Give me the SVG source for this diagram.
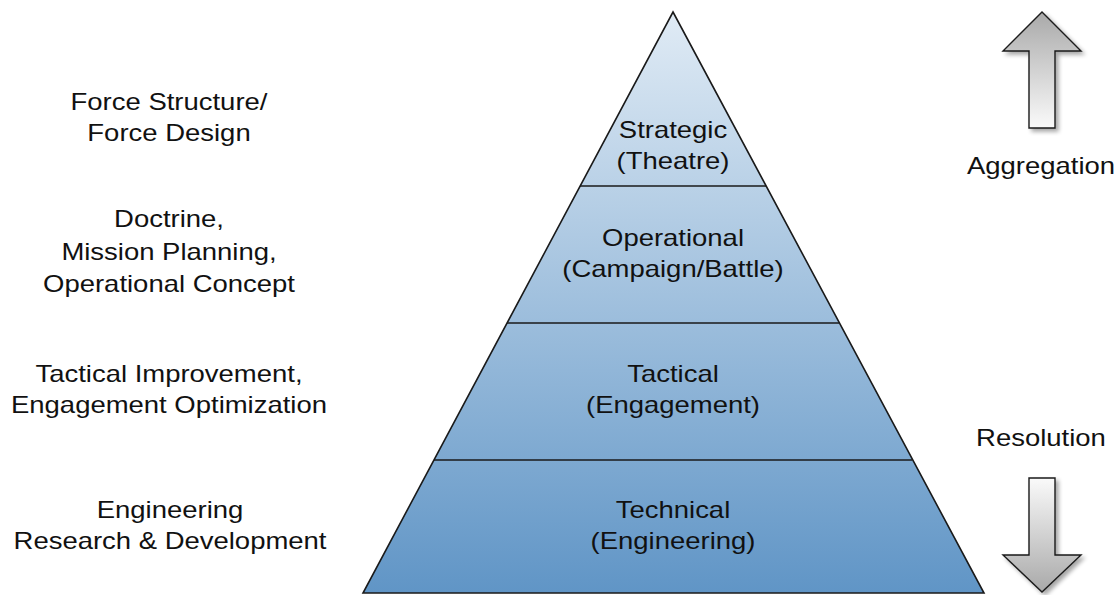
<svg xmlns="http://www.w3.org/2000/svg" width="1120" height="595" viewBox="0 0 1120 595">
  <defs>
    <linearGradient id="pyrFill" gradientUnits="userSpaceOnUse" x1="0" y1="12" x2="0" y2="593">
      <stop offset="0" stop-color="#e0ebf5"/>
      <stop offset="1" stop-color="#6095c6"/>
    </linearGradient>
    <linearGradient id="upFill" x1="0" y1="0" x2="0" y2="1">
      <stop offset="0" stop-color="#a9a9a9"/>
      <stop offset="1" stop-color="#fafafa"/>
    </linearGradient>
    <linearGradient id="downFill" x1="0" y1="0" x2="0" y2="1">
      <stop offset="0" stop-color="#fafafa"/>
      <stop offset="1" stop-color="#a9a9a9"/>
    </linearGradient>
    <filter id="shadow" x="-30%" y="-30%" width="160%" height="160%">
      <feGaussianBlur in="SourceAlpha" stdDeviation="2"/>
      <feOffset dx="3" dy="3" result="b"/>
      <feComponentTransfer><feFuncA type="linear" slope="0.35"/></feComponentTransfer>
      <feMerge><feMergeNode/><feMergeNode in="SourceGraphic"/></feMerge>
    </filter>
  </defs>
  <style>
    text { font-family: "Liberation Sans", Arial, sans-serif; font-size: 24px; fill: #111; text-anchor: middle; }
    .edge { fill: none; stroke: #1a1a1a; stroke-width: 1.6; }
    .arrow { stroke: #1a1a1a; stroke-width: 1.4; stroke-linejoin: miter; }
  </style>

  <rect width="1120" height="595" fill="#ffffff"/>

  <!-- pyramid body -->
  <g id="pyramid">
    <polygon points="673,12 984,593 363,593" fill="url(#pyrFill)"/>
    <polygon class="edge" points="673,12 984,593 363,593"/>
  </g>

  <!-- tier dividers -->
  <g id="connectors">
    <line class="edge" x1="580" y1="186" x2="766" y2="186"/>
    <line class="edge" x1="507" y1="323" x2="839" y2="323"/>
    <line class="edge" x1="434" y1="460" x2="912" y2="460"/>
  </g>

  <!-- labels are set in a horizontally widened face (scale 1.145 on x) -->
  <g id="tier-strategic" transform="translate(673 0) scale(1.145 1)">
    <text x="0" y="138">Strategic</text>
    <text x="0" y="169">(Theatre)</text>
  </g>
  <g id="tier-operational" transform="translate(673 0) scale(1.145 1)">
    <text x="0" y="246">Operational</text>
    <text x="0" y="277">(Campaign/Battle)</text>
  </g>
  <g id="tier-tactical" transform="translate(673 0) scale(1.145 1)">
    <text x="0" y="382">Tactical</text>
    <text x="0" y="413">(Engagement)</text>
  </g>
  <g id="tier-technical" transform="translate(673 0) scale(1.145 1)">
    <text x="0" y="518">Technical</text>
    <text x="0" y="549">(Engineering)</text>
  </g>

  <!-- application areas -->
  <g id="use-force" transform="translate(169 0) scale(1.145 1)">
    <text x="0" y="110">Force Structure/</text>
    <text x="0" y="141">Force Design</text>
  </g>
  <g id="use-doctrine" transform="translate(169 0) scale(1.145 1)">
    <text x="0" y="227">Doctrine,</text>
    <text x="0" y="260">Mission Planning,</text>
    <text x="0" y="292">Operational Concept</text>
  </g>
  <g id="use-tactical" transform="translate(169 0) scale(1.145 1)">
    <text x="0" y="382">Tactical Improvement,</text>
    <text x="0" y="413">Engagement Optimization</text>
  </g>
  <g id="use-engineering" transform="translate(170 0) scale(1.145 1)">
    <text x="0" y="518">Engineering</text>
    <text x="0" y="549">Research &amp; Development</text>
  </g>

  <!-- aggregation / resolution axis -->
  <g id="aggregation">
    <polygon class="arrow" fill="url(#upFill)" filter="url(#shadow)" points="1042,12 1081,51 1055,51 1055,128 1029,128 1029,51 1003,51"/>
    <text transform="translate(1041 0) scale(1.145 1)" x="0" y="174">Aggregation</text>
  </g>
  <g id="resolution">
    <text transform="translate(1041 0) scale(1.145 1)" x="0" y="446">Resolution</text>
    <polygon class="arrow" fill="url(#downFill)" filter="url(#shadow)" points="1029,478 1055,478 1055,555 1081,555 1042,592 1003,555 1029,555"/>
  </g>
</svg>
